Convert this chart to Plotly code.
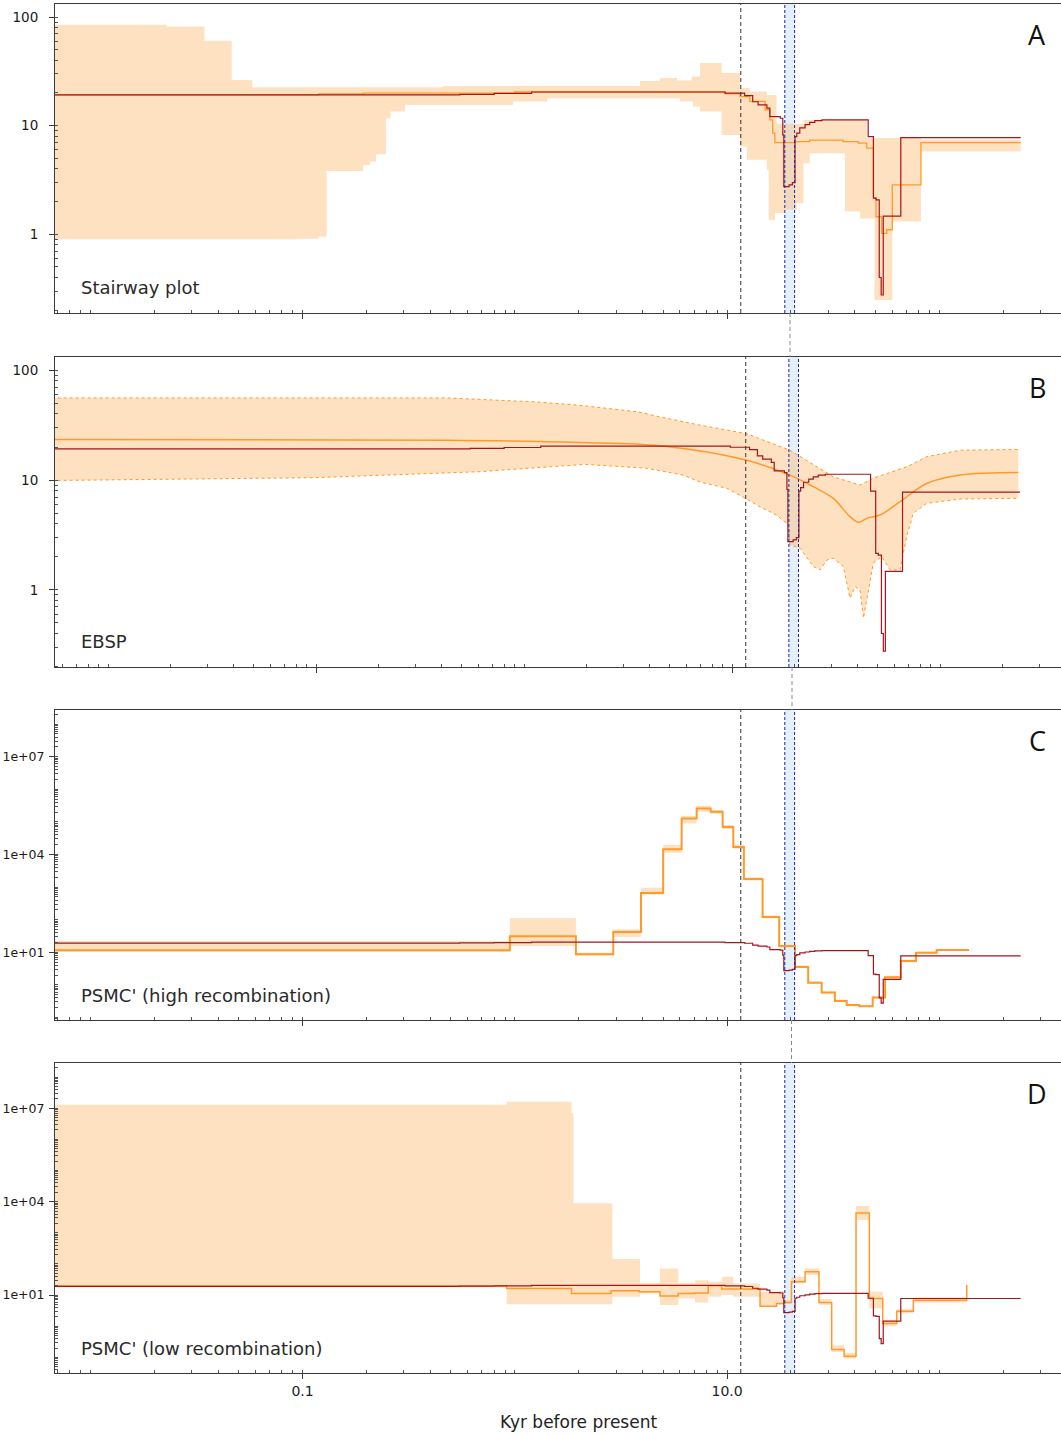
import plotly.graph_objects as go

W, H = 1061, 1435

# ---------------- data (kyr before present, Ne) ----------------
truth_x = [0.005, 0.55, 0.8, 1.2, 9.78, 12.1, 13.2, 14.0, 15.4, 15.9, 17.8, 18.3, 18.5, 19.6, 20.3,
           20.9, 21.3, 22.0, 23.3, 24.5, 25.9, 28.0, 46.2, 48.9, 50.3, 52.1, 53.2, 54.4, 65.8, 241.5]
truth_y = [19.2, 19.4, 19.8, 20.4, 19.9, 18.9, 16.6, 15.5, 14.5, 12.1, 11.7, 8.22, 2.75, 2.85, 2.99,
           7.94, 8.53, 9.55, 10.2, 10.7, 11.1, 11.3, 7.94, 2.15, 2.07, 0.40, 0.276, 1.47, 7.77, 7.77]

# A: Stairway plot
stair_x = [0.005, 0.119, 0.193, 1.0, 9.78, 11.5, 12.8, 15.1, 15.9, 16.4, 16.8, 20.9, 24.5, 35.2, 41.5,
           45.5, 48.9, 50.3, 53.5, 56.5, 60.0, 81.9, 241.5]
stair_y = [19.2, 19.6, 19.9, 20.4, 19.6, 18.5, 16.7, 14.0, 11.3, 8.53, 6.98, 7.13, 7.35, 7.13, 6.90,
           6.21, 2.15, 1.45, 1.02, 1.10, 2.85, 6.98, 6.98]
stair_up_x = [0.005, 0.0229, 0.0345, 0.0464, 0.058, 0.459, 3.89, 4.83, 5.8, 6.81, 7.45, 9.43, 11.5,
              12.8, 15.4, 17.1, 22.9, 45.5, 81.9, 241.5]
stair_up_y = [84.9, 81.9, 60.5, 26.3, 22.6, 23.2, 25.7, 27.4, 26.1, 28.3, 37.7, 30.5, 22.2,
              20.6, 19.2, 10.4, 11.3, 7.7, 7.4, 7.4]
stair_lo_x = [0.005, 0.094, 0.119, 0.130, 0.193, 0.208, 0.222, 0.247, 0.260, 0.304, 0.98, 1.42, 6.0,
              6.9, 7.45, 9.43, 11.5, 12.4, 15.4, 15.7, 16.8, 18.7, 21.3, 22.9, 24.5, 35.9, 42.3,
              49.5, 60.0, 81.9, 241.5]
stair_lo_y = [0.90, 0.91, 0.95, 3.83, 4.35, 4.67, 5.46, 11.7, 13.5, 15.5, 16.7, 17.9, 16.7,
              15.0, 13.5, 8.22, 6.42, 4.84, 3.92, 1.35, 1.57, 1.68, 1.93, 4.51, 5.58, 1.62, 1.40,
              0.248, 1.31, 5.77, 5.77]

# B: EBSP
ebsp_x = [0.005, 0.421, 1.85, 4.49, 11.6, 18.9, 24.5, 30.6, 36.8, 40.4, 44.3, 51.3, 64.0, 86.0, 124.5, 237]
ebsp_y = [23.4, 23.1, 22.0, 20.5, 15.2, 11.1, 8.7, 6.8, 4.64, 4.12, 4.48, 4.8, 6.35, 9.3, 11.1, 11.7]
ebsp_up_x = [0.005, 0.421, 1.14, 1.85, 3.52, 4.49, 7.0, 11.6, 18.9, 30.6, 41.1, 47.6, 68.9, 86.0, 124.5, 237]
ebsp_up_y = [56, 56, 51.5, 48, 41.8, 37.6, 31.6, 26.6, 18.7, 10.7, 9.0, 10.4, 13.2, 16.3, 18.7, 19.0]
ebsp_lo_x = [0.005, 0.0953, 0.599, 1.96, 3.89, 5.79, 7.0, 9.43, 11.6, 13.6, 16.3, 18.6, 18.9, 21.2,
             24.5, 26.4, 28.5, 30.6, 34.2, 36.8, 38.9, 41.1, 42.7, 45.1, 47.6, 52.2, 57.3, 64.0,
             68.9, 74.1, 86.0, 124.5, 237]
ebsp_lo_y = [9.9, 10.5, 11.9, 13.9, 12.8, 11.1, 9.6, 8.4, 6.8, 5.7, 4.8, 3.9, 2.57, 2.39,
             1.63, 1.52, 1.87, 1.94, 1.63, 0.84, 1.07, 1.0, 0.553, 1.0, 1.75, 2.01, 1.52, 1.52,
             3.05, 4.98, 6.14, 6.72, 6.82]

# C: PSMC' high recombination
psmc_hi_x = [0.005, 0.948, 1.94, 2.91, 3.93, 5.0, 6.11, 7.19, 8.37, 9.53, 10.7, 12.0, 14.7, 17.6, 20.9,
             24.1, 27.9, 32.2, 36.6, 42.0, 48.5, 55.5, 65.8, 77.6, 97.1, 138]
psmc_hi_y = [11.5, 31, 8.7, 42, 661, 14400, 126000, 257000, 204000, 69000, 17000, 1760, 120, 15.5, 3.55,
             1.17, 0.58, 0.32, 0.24, 0.22, 0.41, 1.7, 5.4, 9.7, 11.7, 11.7]
psmc_hi_up = [22, 110, 9.6, 50.7, 955, 19500, 151000, 309000, 229000, 80000, 20000, 1950, 135, 16.5, 3.9,
              1.27, 0.63, 0.35, 0.26, 0.24, 0.45, 1.9, 5.9, 10.5, 12.3, 12.3]
psmc_hi_lo = [10.4, 15.6, 8.0, 29.5, 590, 11200, 89000, 204000, 178000, 60000, 15000, 1600, 110, 14, 3.3,
              1.08, 0.54, 0.30, 0.22, 0.21, 0.38, 1.55, 5.0, 9.2, 11.2, 11.2]

# D: PSMC' low recombination
psmc_lo_x = [0.005, 0.916, 1.85, 2.84, 3.85, 4.83, 5.89, 7.06, 8.15, 9.43, 14.3, 17.1, 18.7, 20.1, 23.3,
             27.1, 31.1, 35.6, 40.5, 46.8, 54.1, 63.0, 75.4, 134.6]
psmc_lo_y = [19.5, 16.4, 11.3, 13.7, 12.8, 9.3, 11.3, 11.6, 20, 15.6, 4.4, 5.4, 5.8, 27, 56,
             5.8, 0.18, 0.11, 4300, 7.8, 1.23, 3.06, 6.9, 21]
psmc_lo_band_x = [0.005, 0.916, 1.85, 1.89, 2.88, 3.89, 4.83, 5.89, 7.06, 8.15, 9.43, 10.7, 14.3, 17.1,
                  18.7, 20.1, 23.3, 27.1, 31.1, 35.6, 40.5, 46.8, 54.1, 63.0, 75.4, 134.6]
psmc_lo_up = [1.3e7, 1.6e7, 6.9e6, 8900, 145, 24.8, 72, 24.8, 30, 26.8, 38.8, 23.8, 12.8, 13.5,
              7.0, 38.8, 72, 7.5, 0.245, 0.14, 7200, 12.8, 1.5, 3.6, 8.5, 8.5]
psmc_lo_lo = [17.7, 5.1, 5.1, 5.1, 8.8, 11.3, 4.8, 7.8, 5.8, 8.8, 10, 8.8, 4.2, 5.0,
              5.2, 23.8, 44, 4.8, 0.15, 0.09, 2570, 3.7, 1.0, 2.6, 5.8, 5.8]

# event markers (kyr)
dashed_event = 11.6
blue_band = [18.7, 20.8]

panel_letters = ["A", "B", "C", "D"]
panel_names = ["Stairway plot", "EBSP", "PSMC' (high recombination)", "PSMC' (low recombination)"]
x_tick_vals = [0.1, 10]
x_tick_text = ["0.1", "10.0"]
y_ticks_ab = [1, 10, 100]
y_ticks_ab_text = ["1", "10", "100"]
y_ticks_cd = [10, 1e4, 1e7]
y_ticks_cd_text = ["1e+01", "1e+04", "1e+07"]

# ---------------- style ----------------
RED = "#A3161C"
ORANGE = "#FF9A2A"
BAND = "rgba(252,188,118,0.45)"
BLUE_FILL = "#E3F0FA"
BLUE_LINE = "#1F22B0"
FONT = "DejaVu Sans"

# panel geometry (pixels)
panels = [
    dict(top=4, bot=313, xr=[-2.166, 2.573], yr=[-0.725, 2.12]),
    dict(top=357, bot=667, xr=[-2.256, 2.580], yr=[-0.703, 2.121]),
    dict(top=710, bot=1020, xr=[-2.166, 2.573], yr=[-1.077, 8.43]),
    dict(top=1063, bot=1373, xr=[-2.166, 2.573], yr=[-1.50, 8.45]),
]

def minor_vals(lo, hi):
    vals = []
    for e in range(lo, hi + 1):
        for d in range(1, 10):
            vals.append(d * 10.0 ** e)
    return vals

fig = go.Figure()

def add_band(i, xl, yl, xu, yu, shape, edge_dot=False):
    s = "" if i == 0 else str(i + 1)
    line_lo = dict(width=1 if edge_dot else 0, color=ORANGE, shape=shape, dash="dot")
    fig.add_trace(go.Scatter(x=xl, y=yl, mode="lines", line=line_lo, hoverinfo="skip",
                             showlegend=False, xaxis="x" + s, yaxis="y" + s))
    fig.add_trace(go.Scatter(x=xu, y=yu, mode="lines", line=line_lo, fill="tonexty",
                             fillcolor=BAND, hoverinfo="skip", showlegend=False,
                             xaxis="x" + s, yaxis="y" + s))

def add_line(i, x, y, color, width, shape):
    s = "" if i == 0 else str(i + 1)
    fig.add_trace(go.Scatter(x=x, y=y, mode="lines", line=dict(color=color, width=width, shape=shape),
                             showlegend=False, xaxis="x" + s, yaxis="y" + s))

# Panel A
add_band(0, stair_lo_x, stair_lo_y, stair_up_x, stair_up_y, "hv")
add_line(0, stair_x, stair_y, ORANGE, 1.3, "hv")
add_line(0, truth_x, truth_y, RED, 1.2, "hv")
# Panel B
add_band(1, ebsp_lo_x, ebsp_lo_y, ebsp_up_x, ebsp_up_y, "linear", edge_dot=True)
add_line(1, ebsp_x, ebsp_y, ORANGE, 1.5, "spline")
add_line(1, truth_x, truth_y, RED, 1.2, "hv")
# Panel C
add_band(2, psmc_hi_x, psmc_hi_lo, psmc_hi_x, psmc_hi_up, "hv")
add_line(2, psmc_hi_x, psmc_hi_y, ORANGE, 2, "hv")
add_line(2, truth_x, truth_y, RED, 1.2, "hv")
# Panel D
add_band(3, psmc_lo_band_x, psmc_lo_lo, psmc_lo_band_x, psmc_lo_up, "hv")
add_line(3, psmc_lo_x, psmc_lo_y, ORANGE, 1.5, "hv")
add_line(3, truth_x, truth_y, RED, 1.2, "hv")

shapes = []
annotations = []
for i, p in enumerate(panels):
    s = "" if i == 0 else str(i + 1)
    dom_y = [1 - p["bot"] / H, 1 - p["top"] / H]
    is_cd = i >= 2
    xa = dict(type="log", range=p["xr"], domain=[55 / W, 1.0], anchor="y" + s,
              showline=True, linecolor="#3a3a3a", linewidth=1, mirror=True,
              showgrid=False, zeroline=False,
              tickmode="array", tickvals=x_tick_vals, ticktext=x_tick_text,
              ticks="outside", ticklen=5, tickcolor="#3a3a3a",
              showticklabels=(i == 3),
              tickfont=dict(family=FONT, size=14, color="#222"),
              minor=dict(tickmode="array", tickvals=minor_vals(-3, 2), ticks="inside",
                         ticklen=3, tickcolor="#555", showgrid=False))
    ya = dict(type="log", range=p["yr"], domain=dom_y, anchor="x" + s,
              showline=True, linecolor="#3a3a3a", linewidth=1, mirror=False,
              showgrid=False, zeroline=False,
              tickmode="array",
              tickvals=y_ticks_cd if is_cd else y_ticks_ab,
              ticktext=y_ticks_cd_text if is_cd else y_ticks_ab_text,
              ticks="outside", ticklen=5, tickcolor="#3a3a3a",
              ticklabelstandoff=(2 if is_cd else 8),
              tickfont=dict(family=FONT, size=(12.5 if is_cd else 13.5), color="#1a1a1a"),
              minor=dict(tickmode="array",
                         tickvals=minor_vals(-2, 8) if is_cd else minor_vals(-1, 2),
                         ticks="inside", ticklen=3, tickcolor="#555", showgrid=False))
    fig.layout["xaxis" + s] = xa
    fig.layout["yaxis" + s] = ya

    shapes.append(dict(type="rect", xref="x" + s, yref="y" + s + " domain",
                       x0=blue_band[0], x1=blue_band[1], y0=0, y1=1,
                       fillcolor=BLUE_FILL, line=dict(width=0), layer="below"))
    for xv in blue_band:
        shapes.append(dict(type="line", xref="x" + s, yref="y" + s + " domain",
                           x0=xv, x1=xv, y0=0, y1=1,
                           line=dict(color=BLUE_LINE, width=1, dash="3px,2px"), layer="above"))
    shapes.append(dict(type="line", xref="x" + s, yref="y" + s + " domain",
                       x0=dashed_event, x1=dashed_event, y0=0, y1=1,
                       line=dict(color="#333", width=1, dash="4px,3px"), layer="above"))

    annotations.append(dict(xref="paper", yref="paper", x=79 / W,
                            y=1 - (p["bot"] - 25) / H, xanchor="left", yanchor="middle",
                            text=panel_names[i], showarrow=False,
                            font=dict(family=FONT, size=18, color="#2a2a2a")))
    annotations.append(dict(xref="paper", yref="paper", x=1037 / W,
                            y=1 - (p["top"] + 30) / H, xanchor="center", yanchor="middle",
                            text=panel_letters[i], showarrow=False,
                            font=dict(family="Open Sans", size=27, color="#111")))

# grey connector dashes between panels
for xpx, y0, y1 in [(790, 313, 357), (792, 667, 710), (791.5, 1020, 1063)]:
    shapes.append(dict(type="line", xref="paper", yref="paper",
                       x0=xpx / W, x1=xpx / W, y0=1 - y0 / H, y1=1 - y1 / H,
                       line=dict(color="#888", width=1, dash="4px,3px")))

annotations.append(dict(xref="paper", yref="paper", x=578 / W, y=1 - 1422 / H,
                        xanchor="center", yanchor="middle", text="Kyr before present",
                        showarrow=False, font=dict(family=FONT, size=17, color="#222")))

fig.update_layout(width=W, height=H, margin=dict(l=0, r=0, t=0, b=0),
                  paper_bgcolor="white", plot_bgcolor="white",
                  shapes=shapes, annotations=annotations, showlegend=False,
                  font=dict(family=FONT))

fig.write_html("out.html")
